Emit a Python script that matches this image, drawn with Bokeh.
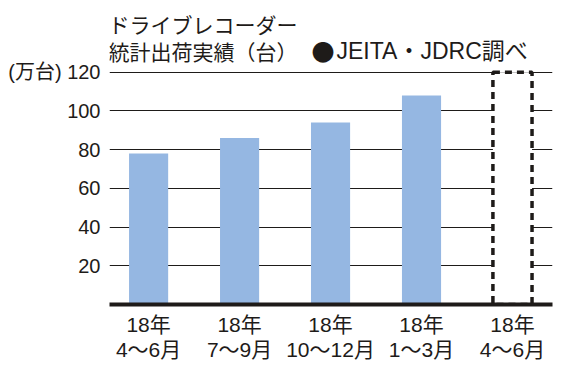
from bokeh.plotting import figure
from bokeh.models import Range1d, FixedTicker, Label
from bokeh.embed import file_html
from bokeh.resources import INLINE

# ---- data ----
categories = ["18年\n4～6月", "18年\n7～9月", "18年\n10～12月", "18年\n1～3月", "18年\n4～6月"]
values = [78, 86, 94, 108]          # 万台, actual shipments
placeholder_index = 4               # empty (forecast) slot drawn as dashed box
y_ticks = [20, 40, 60, 80, 100, 120]
unit_label = "(万台)"
title_line1 = "ドライブレコーダー"
title_line2 = "統計出荷実績（台）"
source_note = "JEITA・JDRC調べ"

FONT = "Liberation Sans, Noto Sans CJK JP"
CJK = "Noto Sans CJK JP"
INK = "#1e1b19"
BAR = "#95b7e2"

Y_MAX = y_ticks[-1]

p = figure(width=566, height=365, output_backend="svg", toolbar_location=None,
           x_range=Range1d(-0.43, 4.44), y_range=Range1d(0, 157),
           min_border_left=109, min_border_right=14, min_border_top=0, min_border_bottom=61)
p.outline_line_color = None
p.background_fill_color = "white"
p.border_fill_color = "white"

# bars
xs = list(range(len(values)))
p.vbar(x=xs, top=values, width=0.43, fill_color=BAR, line_color=None)
# dashed empty slot
p.vbar(x=[placeholder_index], top=[Y_MAX], bottom=[0], width=0.43, fill_color="white",
       line_color=INK, line_width=3.5, line_dash="7 5")

# axes
p.xgrid.grid_line_color = None
p.ygrid.grid_line_color = INK
p.ygrid.grid_line_width = 1.2
p.ygrid.ticker = FixedTicker(ticks=y_ticks)

p.yaxis.ticker = FixedTicker(ticks=y_ticks)
p.yaxis.major_label_overrides = {Y_MAX: unit_label + " " + str(Y_MAX)}
p.yaxis.axis_line_color = None
p.yaxis.major_tick_line_color = None
p.yaxis.minor_tick_line_color = None
p.yaxis.major_tick_out = 0
p.yaxis.major_label_standoff = 9
p.yaxis.major_label_text_font = FONT
p.yaxis.major_label_text_font_size = "20px"
p.yaxis.major_label_text_color = INK

p.xaxis.ticker = FixedTicker(ticks=list(range(len(categories))))
p.xaxis.major_label_overrides = {i: c for i, c in enumerate(categories)}
p.xaxis.axis_line_color = INK
p.xaxis.axis_line_width = 4
p.xaxis.major_tick_line_color = None
p.xaxis.minor_tick_line_color = None
p.xaxis.major_tick_out = 0
p.xaxis.major_label_standoff = 8
p.xaxis.major_label_text_font = FONT
p.xaxis.major_label_text_font_size = "21px"
p.xaxis.major_label_text_line_height = 1.1
p.xaxis.major_label_text_color = INK

# title texts (inside the frame area, above the plotted range)
def lab(text, x, y, font=FONT, size="21px"):
    p.add_layout(Label(x=x, y=y, x_units="screen", y_units="screen", text=text,
                       text_font=font, text_font_size=size, text_color=INK,
                       text_baseline="middle", text_align="left"))

lab(title_line1, -1, 281, font=CJK)
lab(title_line2, -1, 254, font=CJK)
lab("●", 202, 254, font=CJK, size="23px")
lab(source_note, 227, 254, size="23px")

open("out.html", "w").write(file_html(p, INLINE))
